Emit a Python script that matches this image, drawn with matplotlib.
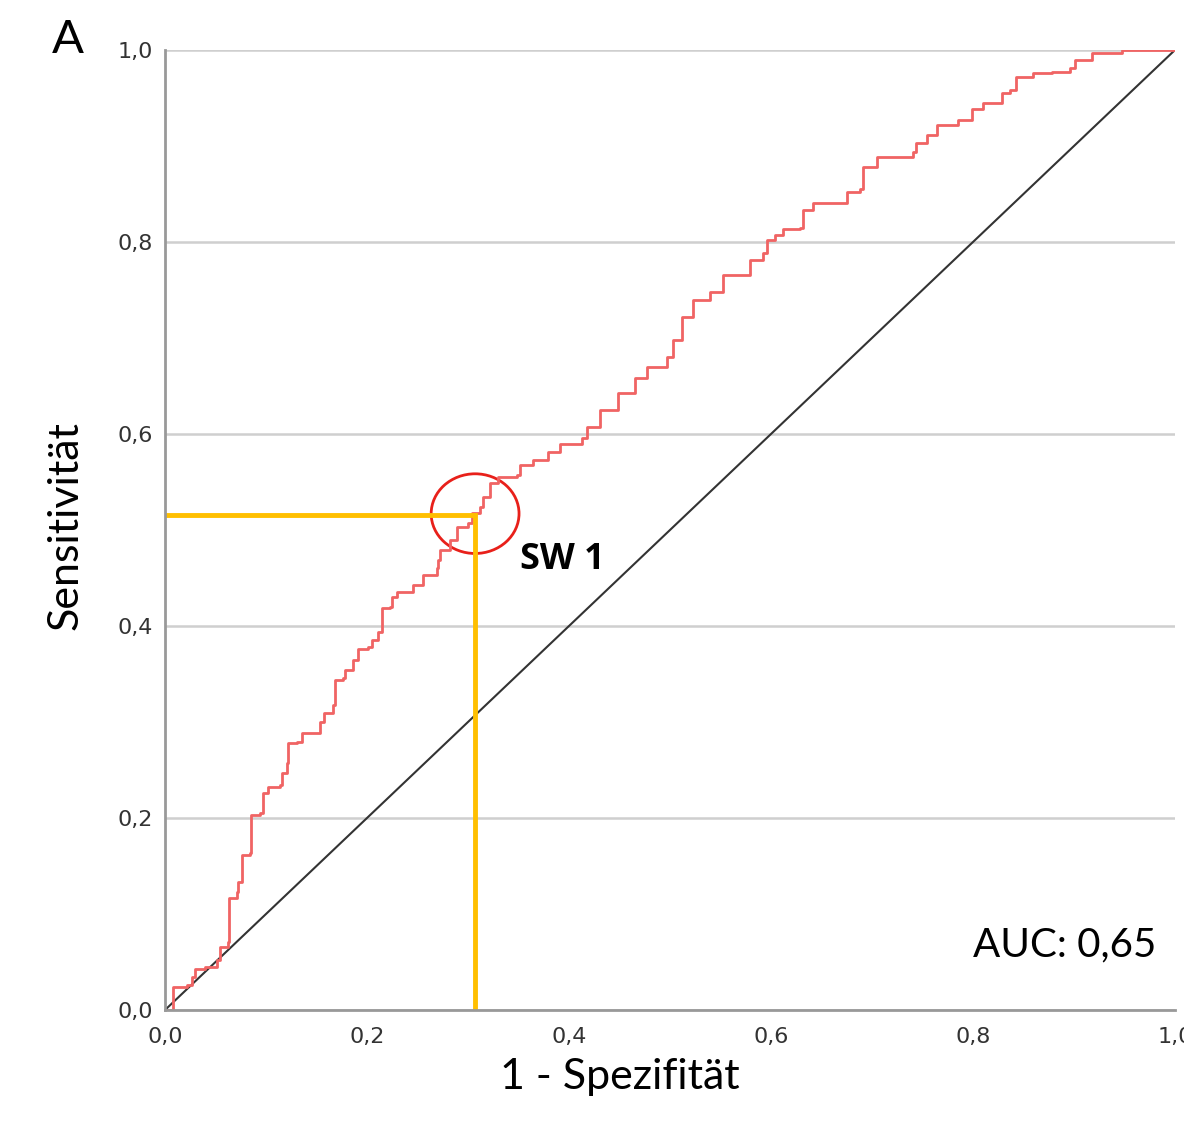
import matplotlib
matplotlib.use("Agg")
import matplotlib.pyplot as plt
from matplotlib.patches import Ellipse

# ROC curve vertices
fpr = [0.000, 0.008, 0.022, 0.027, 0.030, 0.040, 0.051, 0.054, 0.062, 0.063,
       0.071, 0.072, 0.076, 0.084, 0.085, 0.094, 0.097, 0.102, 0.114, 0.116,
       0.121, 0.122, 0.131, 0.136, 0.153, 0.157, 0.166, 0.168, 0.176, 0.178,
       0.186, 0.191, 0.201, 0.205, 0.211, 0.215, 0.223, 0.225, 0.230, 0.246,
       0.255, 0.269, 0.270, 0.272, 0.282, 0.289, 0.300, 0.304, 0.312, 0.315,
       0.322, 0.330, 0.348, 0.351, 0.364, 0.379, 0.391, 0.413, 0.418, 0.431,
       0.448, 0.463, 0.465, 0.477, 0.497, 0.503, 0.512, 0.512, 0.523, 0.540,
       0.552, 0.579, 0.592, 0.596, 0.604, 0.612, 0.629, 0.632, 0.642, 0.666,
       0.675, 0.688, 0.691, 0.705, 0.730, 0.741, 0.744, 0.754, 0.764, 0.785,
       0.799, 0.810, 0.825, 0.829, 0.837, 0.843, 0.859, 0.878, 0.896, 0.901,
       0.918, 0.946, 0.948, 1.000]
tpr = [0.000, 0.024, 0.026, 0.034, 0.043, 0.045, 0.052, 0.066, 0.071, 0.117,
       0.123, 0.133, 0.161, 0.163, 0.203, 0.205, 0.226, 0.232, 0.234, 0.247,
       0.257, 0.278, 0.279, 0.289, 0.300, 0.309, 0.318, 0.344, 0.346, 0.354,
       0.365, 0.376, 0.378, 0.385, 0.394, 0.419, 0.420, 0.430, 0.435, 0.443,
       0.453, 0.460, 0.469, 0.479, 0.490, 0.503, 0.507, 0.518, 0.524, 0.534,
       0.549, 0.555, 0.557, 0.568, 0.573, 0.581, 0.590, 0.596, 0.607, 0.625,
       0.643, 0.643, 0.658, 0.670, 0.680, 0.698, 0.700, 0.722, 0.740, 0.748,
       0.766, 0.781, 0.789, 0.802, 0.807, 0.813, 0.815, 0.833, 0.841, 0.841,
       0.852, 0.855, 0.878, 0.889, 0.889, 0.894, 0.903, 0.911, 0.922, 0.927,
       0.938, 0.945, 0.945, 0.955, 0.958, 0.972, 0.976, 0.977, 0.981, 0.990,
       0.997, 0.997, 1.000, 1.000]

cutoff_fpr = 0.307
cutoff_tpr = 0.516
cutoff_label = "SW 1"
auc_text = "AUC: 0,65"
ticks = [0.0, 0.2, 0.4, 0.6, 0.8, 1.0]
tick_labels = ["0,0", "0,2", "0,4", "0,6", "0,8", "1,0"]

fig = plt.figure(figsize=(11.84, 11.33), dpi=100)
ax = fig.add_axes([0.1394, 0.1086, 0.8530, 0.8473])

ax.set_xlim(0, 1)
ax.set_ylim(0, 1)
ax.yaxis.grid(True, color="#cfcfcf", linewidth=1.8)
ax.set_axisbelow(True)

ax.plot([0, 1], [0, 1], color="#333333", linewidth=1.5)
ax.plot(fpr, tpr, drawstyle="steps-post", color="#f06464", linewidth=2)

# cutoff marker
ax.plot([0, cutoff_fpr, cutoff_fpr], [cutoff_tpr, cutoff_tpr, 0],
        color="#ffbf00", linewidth=3.5, solid_joinstyle="miter")
ax.add_patch(Ellipse((cutoff_fpr, cutoff_tpr + 0.001), 0.087, 0.083,
                     fill=False, edgecolor="#e8201a", linewidth=2))
ax.text(cutoff_fpr + 0.044, cutoff_tpr - 0.047, cutoff_label,
        fontsize=26, fontweight="bold", family="Open Sans",
        va="center", ha="left")
ax.text(0.982, 0.068, auc_text, fontsize=29, family="Lato",
        ha="right", va="center")

ax.set_xticks(ticks)
ax.set_xticklabels(tick_labels)
ax.set_yticks(ticks)
ax.set_yticklabels(tick_labels)
ax.tick_params(labelsize=16, colors="#333333", length=0)
ax.tick_params(axis="x", pad=12)
ax.tick_params(axis="y", pad=9)
for side in ("top", "right"):
    ax.spines[side].set_visible(False)
for side in ("left", "bottom"):
    ax.spines[side].set_color("#999999")
    ax.spines[side].set_linewidth(2)

ax.set_xlabel("1 - Spezifität", fontsize=31, family="Lato")
ax.xaxis.set_label_coords(0.45, -0.05)
ax.set_ylabel("Sensitivität", fontsize=31, family="Lato")
ax.yaxis.set_label_coords(-0.08, 0.505)
fig.text(0.057, 0.965, "A", fontsize=34, family="Lato", ha="center",
         va="center")

fig.savefig("out.png", dpi=100)
